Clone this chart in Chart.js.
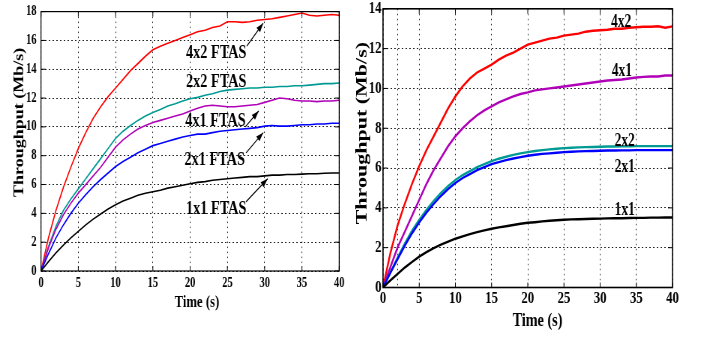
<!DOCTYPE html>
<html>
<head>
<meta charset="utf-8">
<script src="https://cdn.jsdelivr.net/npm/chart.js@4.4.1/dist/chart.umd.min.js"></script>
<style>
  html, body { margin: 0; padding: 0; background: #fff; }
  body { width: 703px; height: 339px; position: relative; overflow: hidden; }
  /* the source figure is squeezed sideways, so draw wide and squeeze */
  .squeeze { position: absolute; top: 0; transform: scaleX(0.75); transform-origin: 0 0; }
</style>
</head>
<body>
<div class="squeeze" style="left:0"><canvas id="leftChart" width="467" height="339"></canvas></div>
<div class="squeeze" style="left:350px"><canvas id="rightChart" width="471" height="339"></canvas></div>
<script>
const times = [0,1,2,3,4,5,6,7,8,9,10,11,12,13,14,15,16,17,18,19,20,
  21,22,23,24,25,26,27,28,29,30,31,32,33,34,35,36,37,38,39,40];

// left panel: FTAS
const ftas4x2 = [0,2.3,4.2,5.8,7.2,8.5,9.6,10.6,11.4,12.1,12.7,13.3,13.9,14.4,14.9,15.35,15.6,15.8,16.0,16.2,16.4,
  16.6,16.7,16.9,17.0,17.3,17.3,17.25,17.3,17.4,17.45,17.5,17.6,17.7,17.8,17.9,17.75,17.7,17.75,17.8,17.75];
const ftas2x2 = [0,1.7,3.1,4.2,5.0,5.7,6.4,7.1,7.8,8.5,9.2,9.7,10.1,10.45,10.75,11.0,11.2,11.45,11.6,11.8,11.95,
  12.05,12.2,12.3,12.45,12.55,12.6,12.65,12.7,12.7,12.75,12.75,12.8,12.8,12.85,12.85,12.9,12.95,13.0,13.0,13.05];
const ftas4x1 = [0,1.6,2.9,3.9,4.7,5.4,6.0,6.6,7.2,7.9,8.6,9.1,9.5,9.85,10.1,10.3,10.45,10.6,10.75,10.9,11.1,
  11.3,11.45,11.5,11.45,11.4,11.4,11.45,11.5,11.55,11.7,11.85,12.0,11.95,11.85,11.8,11.8,11.75,11.8,11.8,11.85];
const ftas2x1 = [0,1.2,2.3,3.2,4.0,4.7,5.3,5.85,6.35,6.8,7.25,7.6,7.9,8.2,8.45,8.7,8.85,9.0,9.15,9.3,9.4,
  9.5,9.5,9.6,9.7,9.75,9.8,9.85,9.9,9.95,10.05,10.1,10.05,10.05,10.1,10.15,10.15,10.2,10.2,10.25,10.25];
const ftas1x1 = [0,0.65,1.25,1.8,2.3,2.75,3.2,3.6,3.95,4.3,4.6,4.85,5.05,5.25,5.4,5.5,5.6,5.75,5.85,5.95,6.05,
  6.15,6.2,6.3,6.35,6.4,6.45,6.5,6.55,6.55,6.6,6.65,6.65,6.7,6.7,6.72,6.75,6.75,6.78,6.8,6.8];

// right panel
const r4x2 = [0,1.7,3.1,4.2,5.2,6.1,6.9,7.6,8.3,9.0,9.6,10.1,10.5,10.8,11.0,11.2,11.45,11.65,11.8,12.0,12.2,
  12.3,12.4,12.5,12.55,12.65,12.7,12.75,12.85,12.9,12.92,12.95,13.0,13.0,13.05,13.07,13.1,13.1,13.12,13.05,13.12];
const r4x1 = [0,1.0,2.0,2.8,3.6,4.4,5.2,5.9,6.5,7.1,7.6,8.0,8.35,8.65,8.9,9.1,9.3,9.45,9.6,9.72,9.8,
  9.9,9.95,10.0,10.05,10.1,10.15,10.2,10.25,10.3,10.35,10.4,10.42,10.45,10.5,10.55,10.58,10.6,10.6,10.65,10.65];
const r2x2 = [0,0.75,1.5,2.2,2.85,3.4,3.9,4.35,4.75,5.1,5.4,5.65,5.85,6.05,6.2,6.35,6.47,6.57,6.66,6.74,6.8,
  6.86,6.9,6.94,6.97,7.0,7.02,7.04,7.05,7.06,7.07,7.08,7.08,7.09,7.09,7.1,7.1,7.1,7.1,7.1,7.1];
const r2x1 = [0,0.72,1.42,2.1,2.72,3.27,3.76,4.2,4.6,4.95,5.25,5.5,5.7,5.9,6.05,6.2,6.3,6.4,6.48,6.55,6.62,
  6.67,6.71,6.74,6.77,6.8,6.82,6.84,6.85,6.86,6.87,6.88,6.88,6.89,6.89,6.9,6.9,6.9,6.9,6.9,6.9];
const r1x1 = [0,0.35,0.68,1.0,1.28,1.55,1.78,1.98,2.15,2.3,2.45,2.57,2.68,2.78,2.87,2.95,3.02,3.08,3.14,3.2,3.25,
  3.28,3.32,3.35,3.38,3.4,3.42,3.43,3.44,3.45,3.46,3.47,3.48,3.48,3.49,3.5,3.5,3.51,3.51,3.52,3.52];

const leftLabels = [
  {text: '4x2 FTAS', t: 23.5, v: 15.1, from: [27.6, 15.6], to: [29.8, 17.2]},
  {text: '2x2 FTAS', t: 23.5, v: 13.1},
  {text: '4x1 FTAS', t: 23.4, v: 10.4, from: [27.4, 10.0], to: [29.2, 11.1]},
  {text: '2x1 FTAS', t: 23.3, v: 7.7, from: [27.5, 8.2], to: [29.8, 9.6]},
  {text: '1x1 FTAS', t: 23.5, v: 4.3, from: [27.5, 4.8], to: [30.4, 6.4]},
];
const rightLabels = [
  {text: '4x2', t: 32.9, v: 13.33},
  {text: '4x1', t: 33.0, v: 10.84},
  {text: '2x2', t: 33.4, v: 7.35},
  {text: '2x1', t: 33.4, v: 6.03},
  {text: '1x1', t: 33.4, v: 3.86},
];

const serif = '"Liberation Serif", "Times New Roman", serif';

const figureDecor = {
  id: 'figureDecor',
  afterDatasetsDraw(chart, args, o) {
    const {ctx, chartArea: a, scales: {x, y}} = chart;
    ctx.save();
    ctx.setLineDash([]);
    ctx.strokeStyle = '#000';
    ctx.lineWidth = o.box;
    ctx.strokeRect(a.left, a.top, a.right - a.left, a.bottom - a.top);

    // inward tick marks like the original
    ctx.lineWidth = 1;
    ctx.beginPath();
    x.ticks.forEach(t => {
      if (t.label === '') return;
      const px = x.getPixelForValue(t.value);
      ctx.moveTo(px, a.bottom); ctx.lineTo(px, a.bottom - 5);
      ctx.moveTo(px, a.top); ctx.lineTo(px, a.top + 5);
    });
    y.ticks.forEach(t => {
      const py = y.getPixelForValue(t.value);
      ctx.moveTo(a.left, py); ctx.lineTo(a.left + 6, py);
      ctx.moveTo(a.right, py); ctx.lineTo(a.right - 6, py);
    });
    ctx.stroke();

    // curve labels and arrows
    ctx.fillStyle = '#000';
    ctx.font = `bold ${o.labelSize}px ${serif}`;
    ctx.textAlign = 'center';
    ctx.textBaseline = 'middle';
    o.labels.forEach(l => {
      ctx.fillText(l.text, x.getPixelForValue(l.t), y.getPixelForValue(l.v));
      if (!l.from) return;
      const x0 = x.getPixelForValue(l.from[0]), y0 = y.getPixelForValue(l.from[1]);
      const x1 = x.getPixelForValue(l.to[0]), y1 = y.getPixelForValue(l.to[1]);
      const ang = Math.atan2(y1 - y0, x1 - x0);
      ctx.lineWidth = 1.2;
      ctx.beginPath(); ctx.moveTo(x0, y0); ctx.lineTo(x1, y1); ctx.stroke();
      ctx.beginPath();
      ctx.moveTo(x1, y1);
      ctx.lineTo(x1 - 10 * Math.cos(ang - 0.33), y1 - 10 * Math.sin(ang - 0.33));
      ctx.lineTo(x1 - 10 * Math.cos(ang + 0.33), y1 - 10 * Math.sin(ang + 0.33));
      ctx.closePath(); ctx.fill();
    });

    // axis titles
    ctx.font = `bold ${o.xTitle.size}px ${serif}`;
    ctx.fillText('Time (s)', (a.left + a.right) / 2 + o.xTitle.dx, a.bottom + o.xTitle.dy);
    ctx.translate(a.left + o.yTitle.dx, (a.top + a.bottom) / 2 + o.yTitle.dy);
    ctx.rotate(-Math.PI / 2);
    ctx.font = `bold ${o.yTitle.size}px ${serif}`;
    ctx.fillText('Throughput (Mb/s)', 0, 0);
    ctx.restore();
  }
};

function makeChart(id, p) {
  return new Chart(document.getElementById(id), {
    type: 'line',
    data: {
      datasets: p.series.map(s => ({
        label: s.name,
        data: times.map((t, i) => ({x: t, y: s.values[i]})),
        borderColor: s.color,
        borderWidth: p.lineWidth,
        pointRadius: 0,
        tension: 0,
        fill: false
      }))
    },
    options: {
      responsive: false,
      animation: false,
      layout: {padding: p.padding},
      plugins: {
        legend: {display: false},
        tooltip: {enabled: false},
        figureDecor: p.decor
      },
      scales: {
        x: {
          type: 'linear', min: 0, max: 40,
          afterFit: s => { s.height = p.xHeight; },
          afterBuildTicks: s => {
            if (p.extraX) { s.ticks.push({value: p.extraX}); s.ticks.sort((a, b) => a.value - b.value); }
          },
          ticks: {
            stepSize: 5, autoSkip: false, maxRotation: 0, color: '#000', padding: p.xPad,
            font: {family: serif, weight: 'bold', size: p.tickSize, lineHeight: 1},
            callback: v => (v % 5 === 0 ? v : '')
          },
          grid: {color: '#222', lineWidth: 1, drawTicks: false},
          border: {display: false, dash: [1.5, 3.5]}
        },
        y: {
          min: 0, max: p.yMax,
          afterFit: s => { s.width = p.yWidth; },
          ticks: {
            stepSize: 2, color: '#000', padding: p.yPad,
            font: {family: serif, weight: 'bold', size: p.tickSize, lineHeight: 0.8}
          },
          grid: {color: '#222', lineWidth: 1, drawTicks: false},
          border: {display: false, dash: [2, 3]}
        }
      }
    },
    plugins: [figureDecor]
  });
}

makeChart('leftChart', {
  series: [
    {name: '1x1 FTAS', values: ftas1x1, color: '#000000'},
    {name: '2x1 FTAS', values: ftas2x1, color: '#0000ff'},
    {name: '4x1 FTAS', values: ftas4x1, color: '#b000b8'},
    {name: '2x2 FTAS', values: ftas2x2, color: '#009a94'},
    {name: '4x2 FTAS', values: ftas4x2, color: '#ff0000'}
  ],
  lineWidth: 1.6,
  yMax: 18,
  padding: {left: 0, right: 14.7, top: 7.3, bottom: 0},
  yWidth: 54.7, xHeight: 68,
  tickSize: 14, xPad: 5, yPad: 6,
  decor: {
    box: 1.2, labels: leftLabels, labelSize: 19,
    xTitle: {size: 17, dx: 9, dy: 32},
    yTitle: {size: 18, dx: -28, dy: -19}
  }
});

makeChart('rightChart', {
  series: [
    {name: '1x1', values: r1x1, color: '#000000'},
    {name: '2x1', values: r2x1, color: '#0000ff'},
    {name: '2x2', values: r2x2, color: '#009a94'},
    {name: '4x1', values: r4x1, color: '#b000b8'},
    {name: '4x2', values: r4x2, color: '#ff0000'}
  ],
  lineWidth: 2.4,
  yMax: 14,
  padding: {left: 0, right: 41, top: 6.6, bottom: 0},
  yWidth: 44, xHeight: 51.5,
  tickSize: 17, xPad: 3, yPad: 2,
  extraX: 2,
  decor: {
    box: 1.6, labels: rightLabels, labelSize: 18,
    xTitle: {size: 19, dx: 13, dy: 34},
    yTitle: {size: 22, dx: -28, dy: -15}
  }
});
</script>
</body>
</html>
